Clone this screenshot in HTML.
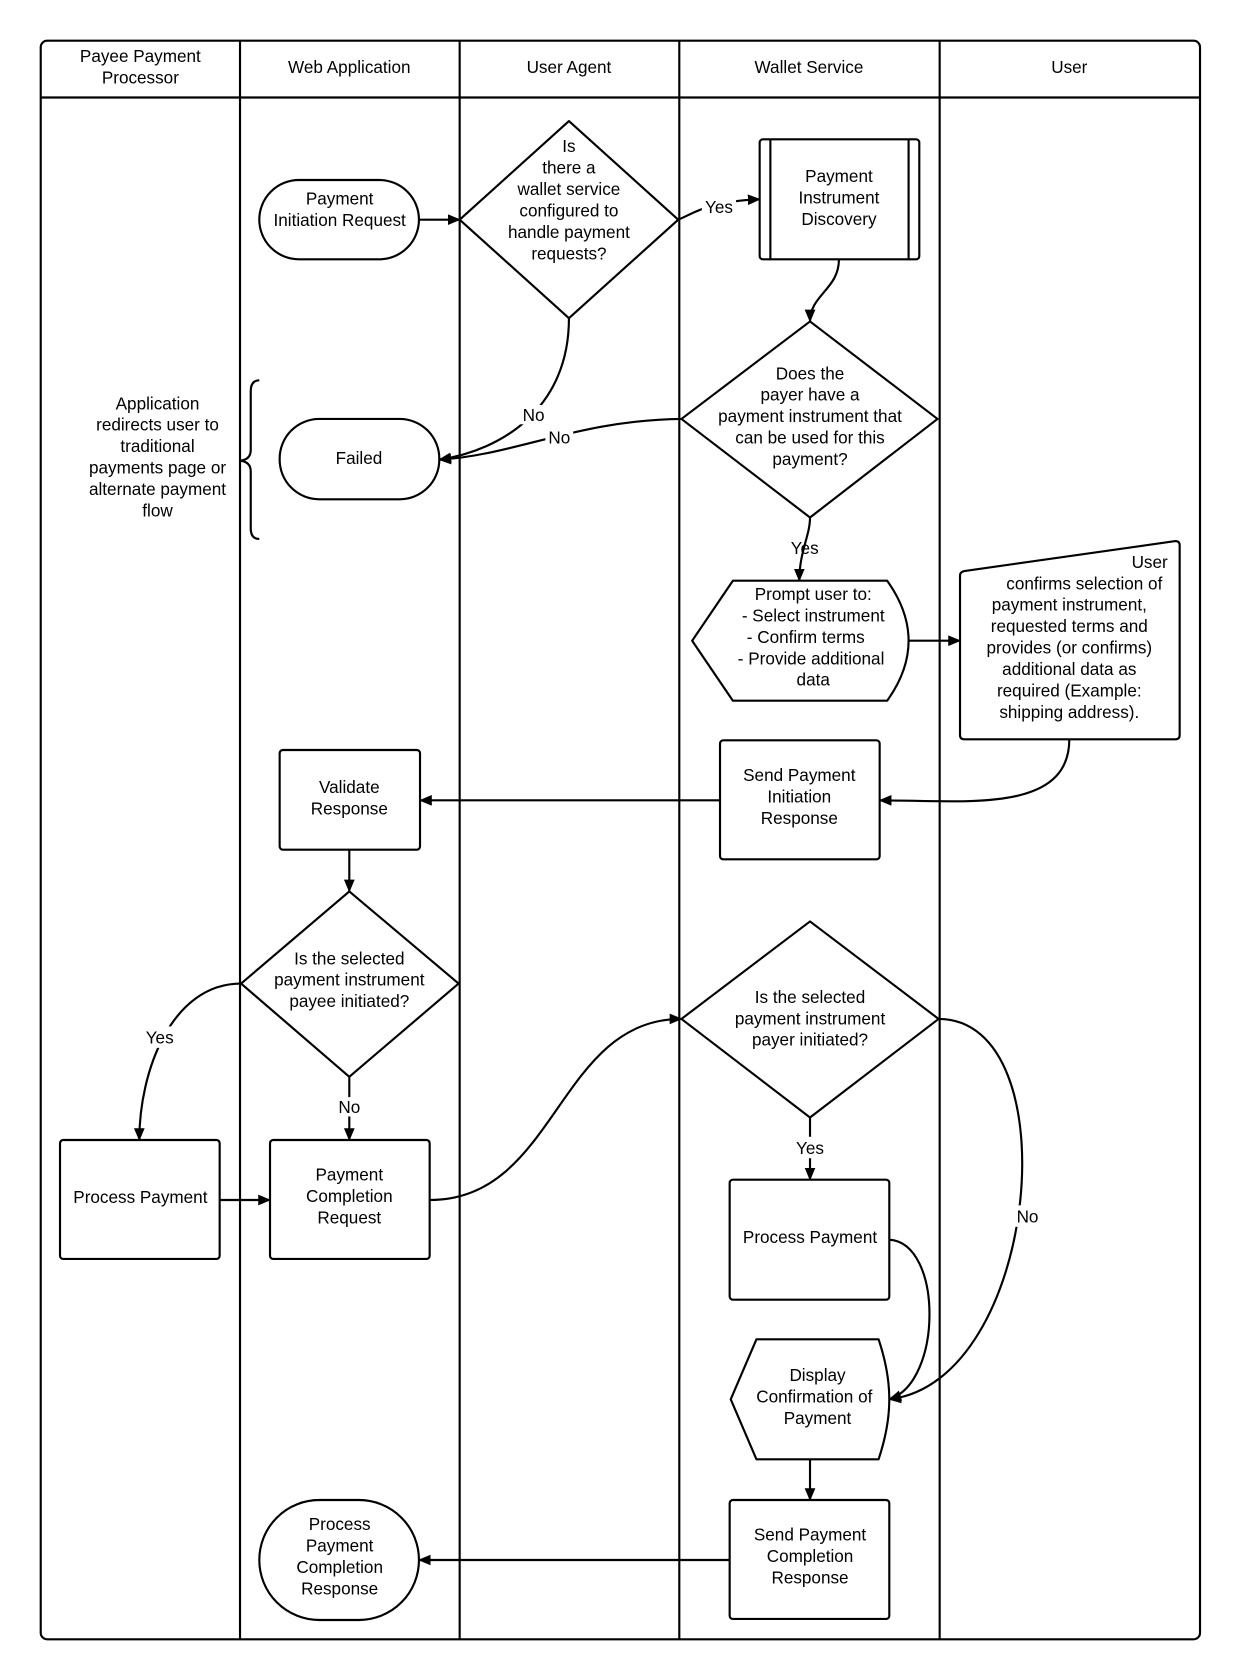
<!DOCTYPE html>
<html><head><meta charset="utf-8"><style>
html,body{margin:0;padding:0;background:#fff;}
svg{display:block;}
text{font-family:"Liberation Sans",Arial,sans-serif;font-size:16px;fill:#000;text-anchor:middle;}
</style></head><body>
<svg width="1240" height="1680" viewBox="0 0 1157.3 1568" xmlns="http://www.w3.org/2000/svg">
<defs><marker id="a" markerWidth="12" markerHeight="10" refX="11" refY="5" orient="auto" markerUnits="userSpaceOnUse"><path d="M0,0 L12,5 L0,10 z" fill="#000"/></marker></defs>
<g fill="none" stroke="#000" stroke-width="2">
<rect x="38" y="38" width="1082" height="1492" rx="6"/>
<line x1="38" y1="91" x2="1120" y2="91"/>
<line x1="224" y1="38" x2="224" y2="1530"/>
<line x1="429" y1="38" x2="429" y2="1530"/>
<line x1="634" y1="38" x2="634" y2="1530"/>
<line x1="877" y1="38" x2="877" y2="1530"/>
</g>
<text x="131" y="58">Payee Payment</text><text x="131" y="78">Processor</text>
<text x="326" y="68">Web Application</text>
<text x="531" y="68">User Agent</text>
<text x="755" y="68">Wallet Service</text>
<text x="998" y="68">User</text>

<g fill="#fff" stroke="#000" stroke-width="2">
<rect x="242" y="168" width="149" height="74" rx="37"/>
<polygon points="531,113 633,205 531,297 429,205" stroke-linejoin="round"/>
<rect x="709" y="130" width="149" height="112" rx="3"/>
<line x1="719" y1="130" x2="719" y2="242"/><line x1="848" y1="130" x2="848" y2="242"/>
<polygon points="756,300 875,391 756,483 636,391" stroke-linejoin="round"/>
<rect x="261" y="391" width="149" height="75" rx="37"/>
<path d="M684,542 L828,542 Q848,570 848,598 Q848,626 828,654 L684,654 L646,598 Z" stroke-linejoin="round"/>
<path d="M900,533 L1097,505 Q1101,505 1101,509 L1101,686 Q1101,690 1097,690 L900,690 Q896,690 896,686 L896,537 Q896,534 900,533 Z"/>
<rect x="672" y="691" width="149" height="111" rx="3"/>
<rect x="261" y="700" width="131" height="93" rx="3"/>
<polygon points="326,832 428,918 326,1005 225,918" stroke-linejoin="round"/>
<rect x="56" y="1064" width="149" height="111" rx="3"/>
<rect x="252" y="1064" width="149" height="111" rx="3"/>
<polygon points="756,860 876,951 756,1043 636,951" stroke-linejoin="round"/>
<rect x="681" y="1101" width="149" height="112" rx="3"/>
<path d="M706,1250 L820,1250 Q830,1280 830,1306 Q830,1332 820,1362 L706,1362 L682,1306 Z" stroke-linejoin="round"/>
<rect x="681" y="1400" width="149" height="111" rx="3"/>
<rect x="242" y="1400" width="149" height="112" rx="56"/>
</g>

<g fill="none" stroke="#000" stroke-width="2" marker-end="url(#a)">
<line x1="391" y1="205" x2="429" y2="205"/>
<path d="M633,205 C650,198 660,188 709,186"/>
<path d="M783,242 C783,270 756,275 756,300"/>
<path d="M531,297 C531,380 470,420 410,429"/>
<path d="M636,391 C540,392 480,425 410,429"/>
<path d="M756,483 C756,500 746,515 746,542"/>
<line x1="848" y1="598" x2="896" y2="598"/>
<path d="M998,690 C998,760 900,747 821,747"/>
<line x1="672" y1="747" x2="392" y2="747"/>
<line x1="326" y1="793" x2="326" y2="832"/>
<path d="M225,918 C160,918 130,1000 130,1064"/>
<line x1="326" y1="1005" x2="326" y2="1064"/>
<line x1="205" y1="1120" x2="252" y2="1120"/>
<path d="M401,1120 C520,1120 520,951 636,951"/>
<line x1="756" y1="1043" x2="756" y2="1101"/>
<path d="M830,1157 C880,1160 880,1290 830,1306"/>
<path d="M876,951 C1000,951 970,1290 830,1306"/>
<line x1="756" y1="1362" x2="756" y2="1400"/>
<line x1="681" y1="1456" x2="391" y2="1456"/>
</g>
<path d="M242,355 Q234,355 234,365 L234,420 Q234,429 224,430 Q234,431 234,440 L234,493 Q234,503 242,503" fill="none" stroke="#000" stroke-width="2"/>

<g>
<rect x="655" y="183" width="32" height="20" fill="#fff"/>
<text x="671" y="199">Yes</text>
<rect x="485" y="378" width="26" height="18" fill="#fff"/><text x="498" y="393">No</text>
<rect x="509" y="399" width="26" height="18" fill="#fff"/><text x="522" y="414">No</text>
<text x="751" y="517">Yes</text>
<rect x="133" y="958" width="32" height="20" fill="#fff"/><text x="149" y="974">Yes</text>
<rect x="313" y="1024" width="26" height="18" fill="#fff"/><text x="326" y="1039">No</text>
<rect x="740" y="1061" width="32" height="20" fill="#fff"/><text x="756" y="1077">Yes</text>
<rect x="945" y="1125" width="28" height="20" fill="#fff"/><text x="959" y="1141">No</text>
</g>

<text x="317" y="191">Payment</text><text x="317" y="211">Initiation Request</text>
<text x="531" y="142">Is</text><text x="531" y="162">there a</text><text x="531" y="182">wallet service</text><text x="531" y="202">configured to</text><text x="531" y="222">handle payment</text><text x="531" y="242">requests?</text>
<text x="783" y="170">Payment</text><text x="783" y="190">Instrument</text><text x="783" y="210">Discovery</text>
<text x="756" y="354">Does the</text><text x="756" y="374">payer have a</text><text x="756" y="394">payment instrument that</text><text x="756" y="414">can be used for this</text><text x="756" y="434">payment?</text>
<text x="335" y="433">Failed</text>
<text x="147" y="382">Application</text><text x="147" y="402">redirects user to</text><text x="147" y="422">traditional</text><text x="147" y="442">payments page or</text><text x="147" y="462">alternate payment</text><text x="147" y="482">flow</text>
<text x="759" y="560">Prompt user to:</text><text x="759" y="580">- Select instrument</text><text x="752" y="600">- Confirm terms</text><text x="757" y="620">- Provide additional</text><text x="759" y="640">data</text>
<text x="1073" y="530">User</text><text x="1012" y="550">confirms selection of</text><text x="998" y="570">payment instrument,</text><text x="998" y="590">requested terms and</text><text x="998" y="610">provides (or confirms)</text><text x="998" y="630">additional data as</text><text x="998" y="650">required (Example:</text><text x="998" y="670">shipping address).</text>
<text x="746" y="729">Send Payment</text><text x="746" y="749">Initiation</text><text x="746" y="769">Response</text>
<text x="326" y="740">Validate</text><text x="326" y="760">Response</text>
<text x="326" y="900">Is the selected</text><text x="326" y="920">payment instrument</text><text x="326" y="940">payee initiated?</text>
<text x="756" y="936">Is the selected</text><text x="756" y="956">payment instrument</text><text x="756" y="976">payer initiated?</text>
<text x="131" y="1123">Process Payment</text>
<text x="326" y="1102">Payment</text><text x="326" y="1122">Completion</text><text x="326" y="1142">Request</text>
<text x="756" y="1160">Process Payment</text>
<text x="763" y="1289">Display</text><text x="760" y="1309">Confirmation of</text><text x="763" y="1329">Payment</text>
<text x="756" y="1438">Send Payment</text><text x="756" y="1458">Completion</text><text x="756" y="1478">Response</text>
<text x="317" y="1428">Process</text><text x="317" y="1448">Payment</text><text x="317" y="1468">Completion</text><text x="317" y="1488">Response</text>
</svg>
</body></html>
